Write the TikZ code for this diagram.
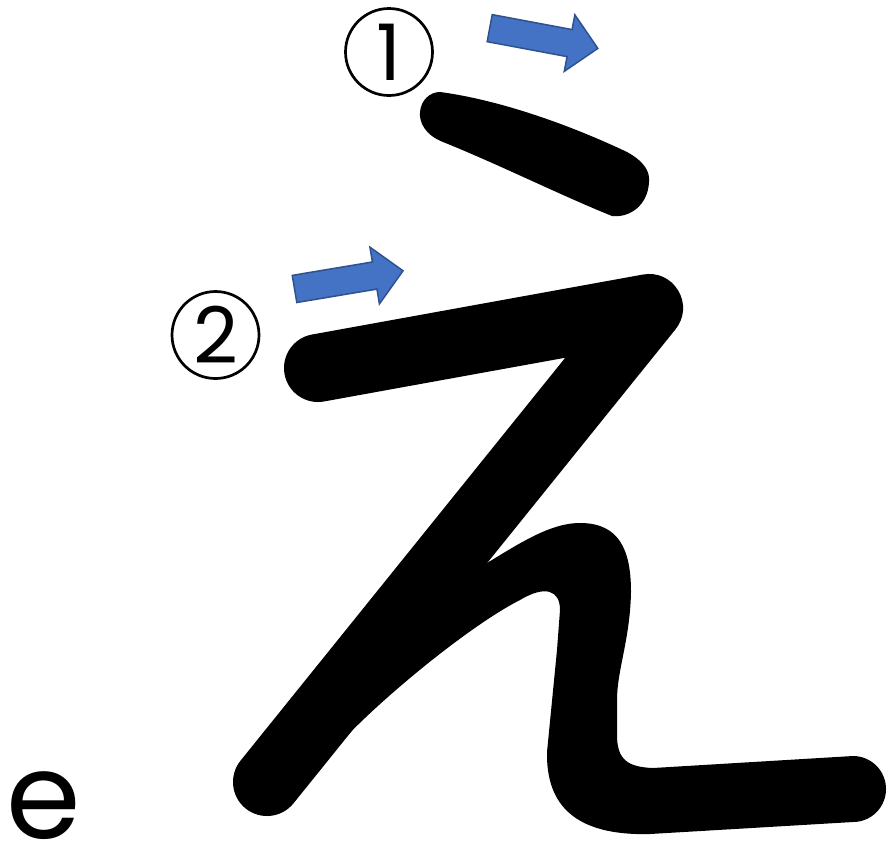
\documentclass[tikz,border=0pt]{standalone}
\usepackage{fontspec}
\usetikzlibrary{shapes.arrows}
\newfontfamily\numfont{Poppins}
\definecolor{arrowblue}{RGB}{68,114,196}
\definecolor{arrowedge}{RGB}{47,82,143}

\begin{document}
\begin{tikzpicture}[x=1pt,y=-1pt,
  brush/.style={line width=68pt, line cap=round, line join=round},
  numcircle/.style={circle, draw, line width=2.7pt, minimum size=87pt, inner sep=0pt,
    font=\numfont\fontsize{78}{78}\selectfont},
  dirarrow/.style={single arrow, fill=arrowblue, draw=arrowedge, line width=1.5pt,
    inner sep=13pt, single arrow head extend=15pt, minimum height=110pt}]
  \useasboundingbox[fill=white] (0,0) rectangle (890,854);
  % Stroke 1 (tapered)
  \fill (440,92) .. controls (500,100) and (570,125) .. (627,152)
    .. controls (645,162) and (650,172) .. (649,182)
    .. controls (648,205) and (630,218) .. (612,216)
    .. controls (560,195) and (500,165) .. (443,142)
    .. controls (425,135) and (419,122) .. (420,112)
    .. controls (421,100) and (430,92) .. (440,92) -- cycle;
  % Stroke 2: bar, corner and long diagonal
  \draw[brush] (318,368) -- (649,308) -- (267,782);
  % Stroke 2: loop and tail
  \fill (440,590) -- (487,563) .. controls (520,543) and (552,522) .. (582,523)
    .. controls (618,524) and (631,548) .. (631,592)
    .. controls (630,640) and (617,670) .. (617,700) -- (617,735)
    .. controls (617,760) and (628,767) .. (653,768) -- (853,756)
    arc (-90:90:33) -- (650,834)
    .. controls (575,836) and (546,805) .. (547,752) -- (557,650) -- (560,610)
    .. controls (560,590) and (545,585) .. (520,600)
    .. controls (465,628) and (368,710) .. (336,748) -- (320,730) -- cycle;
  % Order numbers
  \node[numcircle] (one) at (389,52) {1};
  \node[numcircle] (two) at (215.5,335) {2};
  % Direction arrows
  \node[dirarrow, rotate=-10.6] (arrowone) at (537,37) {};
  \node[dirarrow, rotate=9.5] (arrowtwo) at (342,281) {};
  % Romanisation
  \node[anchor=base west, inner sep=0pt, font=\numfont\fontsize{120}{120}\selectfont] (roma) at (6,838) {e};
\end{tikzpicture}
\end{document}
